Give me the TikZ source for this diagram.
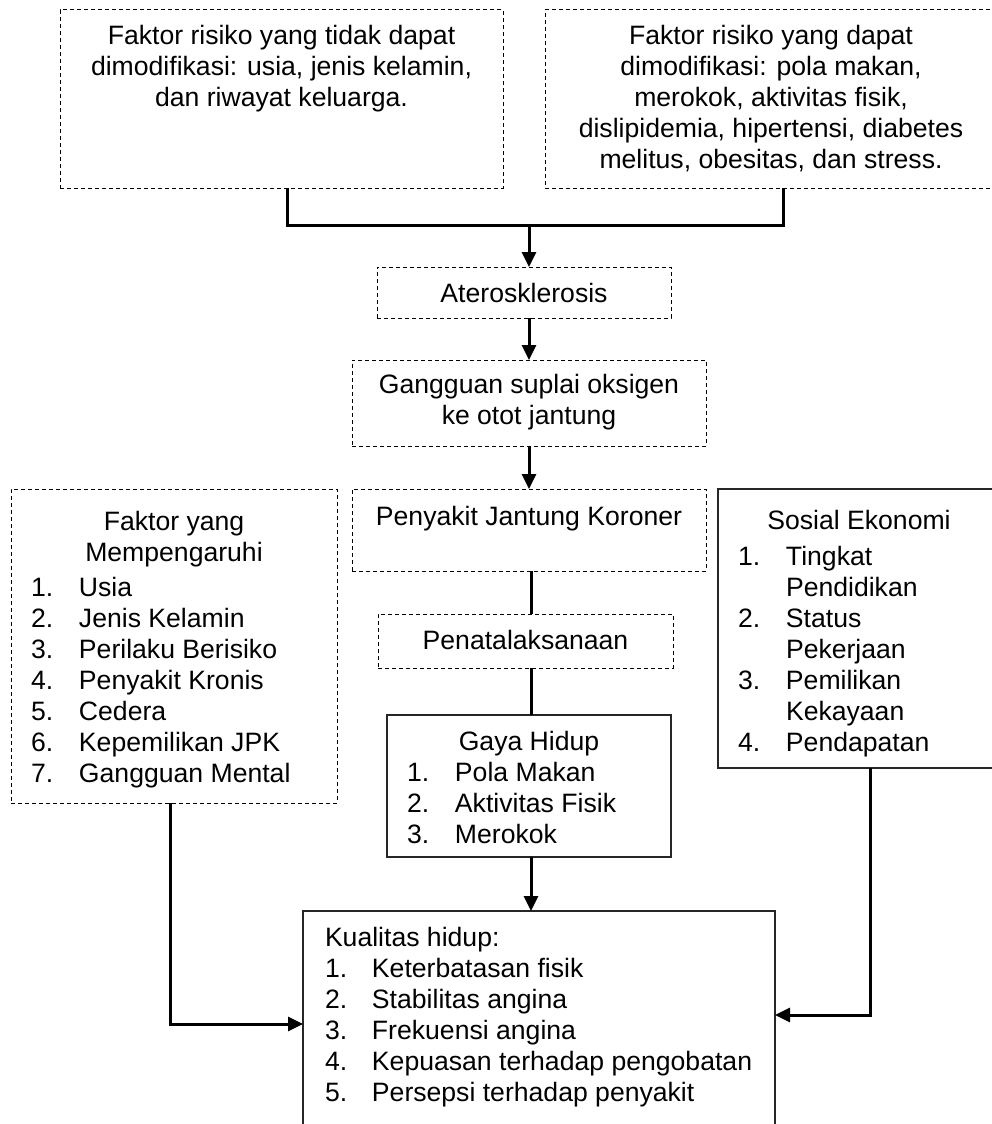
\documentclass[tikz,border=0pt]{standalone}
\usepackage{fontspec}
\setmainfont{Liberation Sans}
\usetikzlibrary{arrows.meta}
\newcommand\myfs{\fontsize{26.6pt}{31pt}\selectfont}
\newcommand\nb[1]{\makebox[48pt][l]{#1}}
\begin{document}
\begin{tikzpicture}[x=1pt,y=-1pt,
  dbox/.style={draw, dash pattern=on 4pt off 3pt, line width=1pt, inner sep=0pt, outer sep=0pt},
  sbox/.style={draw=black!85, line width=1.4pt, inner sep=0pt, outer sep=0pt},
  conn/.style={line width=3pt},
  arr/.style={conn, -{Triangle[length=15pt,width=14pt]}},
  txt/.style={inner sep=0pt, outer sep=0pt, font=\myfs}]
\useasboundingbox (0,0) rectangle (991,1124);

% boxes
\node[dbox, minimum width=443pt, minimum height=178pt] (box1) at (281.5,99) {};
\node[dbox, minimum width=452pt, minimum height=178pt] (box2) at (771,99) {};
\node[dbox, minimum width=294pt, minimum height=51pt] (ater) at (524,292.5) {};
\node[dbox, minimum width=354pt, minimum height=86pt] (gang) at (529,403) {};
\node[dbox, minimum width=354pt, minimum height=82pt] (pjk) at (529,530) {};
\node[dbox, minimum width=295pt, minimum height=54pt] (pena) at (525.5,641) {};
\node[sbox, minimum width=284pt, minimum height=142pt] (gaya) at (529,786) {};
\node[dbox, minimum width=326pt, minimum height=314pt] (faktor) at (174,646) {};
\node[sbox, minimum width=282pt, minimum height=279pt] (sosial) at (859,628.5) {};
\node[sbox, minimum width=472pt, minimum height=224pt] (kual) at (539,1023) {};

% texts
\node[txt, anchor=base] (t1) at (281.5,45) {\begin{tabular}[t]{@{}c@{}}Faktor risiko yang tidak dapat\\dimodifikasi: usia, jenis kelamin,\\dan riwayat keluarga.\end{tabular}};
\node[txt, anchor=base] (t2) at (771,45) {\begin{tabular}[t]{@{}c@{}}Faktor risiko yang dapat\\dimodifikasi: pola makan,\\merokok, aktivitas fisik,\\dislipidemia, hipertensi, diabetes\\melitus, obesitas, dan stress.\end{tabular}};
\node[txt, anchor=base] (t3) at (524,302) {Aterosklerosis};
\node[txt, anchor=base] (t4) at (529,393) {\begin{tabular}[t]{@{}c@{}}Gangguan suplai oksigen\\ke otot jantung\end{tabular}};
\node[txt, anchor=base] (t5) at (529,525) {Penyakit Jantung Koroner};
\node[txt, anchor=base] (t6) at (525.5,649) {Penatalaksanaan};
\node[txt, anchor=base] (t7) at (529,750) {Gaya Hidup};
\node[txt, anchor=base west] (t8) at (407,781) {\begin{tabular}[t]{@{}l@{}}\nb{1.}Pola Makan\\\nb{2.}Aktivitas Fisik\\\nb{3.}Merokok\end{tabular}};
\node[txt, anchor=base] (t9) at (174,530) {\begin{tabular}[t]{@{}c@{}}Faktor yang\\Mempengaruhi\end{tabular}};
\node[txt, anchor=base west] (t10) at (31,596) {\begin{tabular}[t]{@{}l@{}}\nb{1.}Usia\\\nb{2.}Jenis Kelamin\\\nb{3.}Perilaku Berisiko\\\nb{4.}Penyakit Kronis\\\nb{5.}Cedera\\\nb{6.}Kepemilikan JPK\\\nb{7.}Gangguan Mental\end{tabular}};
\node[txt, anchor=base] (t11) at (859,529) {Sosial Ekonomi};
\node[txt, anchor=base west] (t12) at (738,565) {\begin{tabular}[t]{@{}l@{}}\nb{1.}Tingkat\\\nb{}Pendidikan\\\nb{2.}Status\\\nb{}Pekerjaan\\\nb{3.}Pemilikan\\\nb{}Kekayaan\\\nb{4.}Pendapatan\end{tabular}};
\node[txt, anchor=base west] (t13) at (325,946) {\begin{tabular}[t]{@{}l@{}}Kualitas hidup:\\\makebox[47pt][l]{1.}Keterbatasan fisik\\\makebox[47pt][l]{2.}Stabilitas angina\\\makebox[47pt][l]{3.}Frekuensi angina\\\makebox[47pt][l]{4.}Kepuasan terhadap pengobatan\\\makebox[47pt][l]{5.}Persepsi terhadap penyakit\end{tabular}};

% connectors
\coordinate (j) at (529,225);
\coordinate (m) at (531,0);
\coordinate (fk) at (170,1024);
\coordinate (sk) at (870,1015);
\draw[conn] ([xshift=5.5pt]box1.south) |- (j);
\draw[conn] ([xshift=12pt]box2.south) |- (j);
\draw[arr] (j) -- (j |- ater.north);
\draw[arr] (ater.south -| j) -- (gang.north -| j);
\draw[arr] (gang.south -| j) -- (pjk.north -| j);
\draw[conn] (pjk.south -| m) -- (pena.north -| m);
\draw[conn] (pena.south -| m) -- (gaya.north -| m);
\draw[arr] (gaya.south -| m) -- (kual.north -| m);
\draw[arr] (faktor.south -| fk) |- (kual.west |- fk);
\draw[arr] (sosial.south -| sk) |- (kual.east |- sk);
\end{tikzpicture}
\end{document}
